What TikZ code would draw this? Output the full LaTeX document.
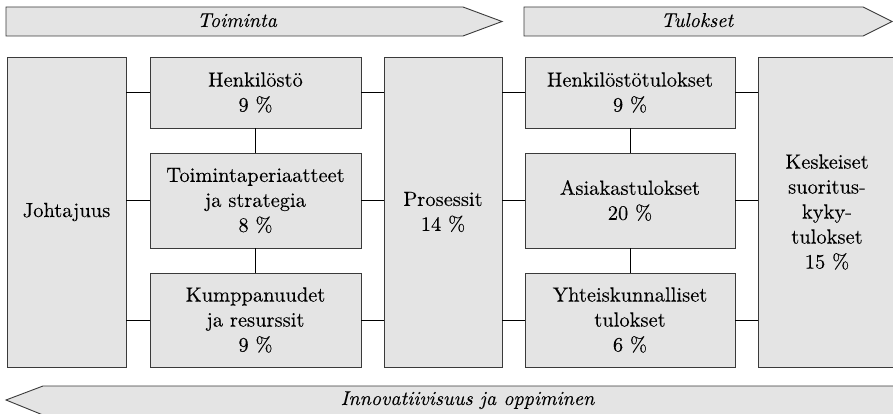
\documentclass[tikz,border=0pt]{standalone}
\usepackage{fontspec}
% design-size 10 Latin Modern at every size, a touch emboldened
\setmainfont{lmroman10}[Extension=.otf, UprightFont=*-regular, ItalicFont=*-italic,
  BoldFont=*-bold, FakeBold=0.15]
\definecolor{boxfill}{RGB}{228,228,228}
\definecolor{boxline}{RGB}{58,58,58}
\tikzset{
  panel/.style={draw=boxline, fill=boxfill, line width=0.9pt, align=center,
    inner sep=2pt, font=\fontsize{20.5}{25}\selectfont},
  banner/.style={draw=boxline, fill=boxfill, line width=0.9pt},
  bannertext/.style={anchor=base, inner sep=0pt, font=\fontsize{20}{25}\selectfont\itshape},
  link/.style={draw=black, line width=0.8pt},
}
\begin{document}
\begin{tikzpicture}[x=1pt,y=-1pt]
\clip (0,0) rectangle (893,414);

% banners
\draw[banner] (6,7) -- (463,7) -- (502,21.5) -- (463,36) -- (6,36) -- cycle;
\draw[banner] (524,7) -- (863,7) -- (892,21.5) -- (863,36) -- (524,36) -- cycle;
\draw[banner] (43,386) -- (900,386) -- (900,415) -- (43,415) -- (6,400) -- cycle;
\node[bannertext] (toiminta) at (237,27) {Toiminta};
\node[bannertext] (tulokset) at (697,27) {Tulokset};
\node[bannertext] (innovointi) at (467.5,405) {Innovatiivisuus ja oppiminen};

% boxes
\node[panel, minimum width=119pt, minimum height=310pt] (johto) at (66.5,212) {Johtajuus};
\node[panel, minimum width=211pt, minimum height=71pt] (hen) at (255.5,92.5) {Henkilöstö\\9 \%};
\node[panel, minimum width=211pt, minimum height=95pt] (toim) at (255.5,200.5) {Toimintaperiaatteet\\ja strategia\\8 \%};
\node[panel, minimum width=211pt, minimum height=94pt] (kump) at (255.5,320) {Kumppanuudet\\ja resurssit\\9 \%};
\node[panel, minimum width=118pt, minimum height=310pt] (pros) at (443,212) {Prosessit\\14 \%};
\node[panel, minimum width=210pt, minimum height=71pt] (hentul) at (630,92.5) {Henkilöstötulokset\\9 \%};
\node[panel, minimum width=210pt, minimum height=95pt] (asiak) at (630,200.5) {Asiakastulokset\\20 \%};
\node[panel, minimum width=210pt, minimum height=94pt] (yht) at (630,320) {Yhteiskunnalliset\\tulokset\\6 \%};
\node[panel, minimum width=138pt, minimum height=310pt] (kesk) at (827,212) {Keskeiset\\suoritus-\\kyky-\\tulokset\\15 \%};

% horizontal links
\foreach \b in {hen,toim,kump}{
  \draw[link] (johto.east |- \b.west) -- (\b.west);
  \draw[link] (\b.east) -- (pros.west |- \b.east);
}
\foreach \b in {hentul,asiak,yht}{
  \draw[link] (pros.east |- \b.west) -- (\b.west);
  \draw[link] (\b.east) -- (kesk.west |- \b.east);
}
% vertical links
\draw[link] (hen.south) -- (toim.north);
\draw[link] (toim.south) -- (kump.north);
\draw[link] (hentul.south) -- (asiak.north);
\draw[link] (asiak.south) -- (yht.north);
\end{tikzpicture}
\end{document}
